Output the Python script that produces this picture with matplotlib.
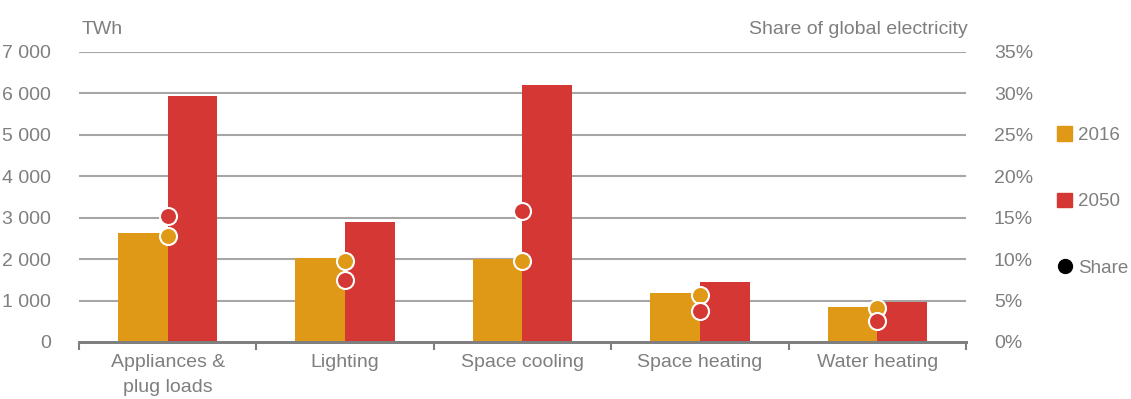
import numpy as np
import matplotlib.pyplot as plt
from matplotlib.lines import Line2D
from matplotlib.patches import Patch

plt.rcParams['font.family'] = ['Liberation Sans', 'DejaVu Sans']

categories = ['Appliances &\nplug loads', 'Lighting', 'Space cooling', 'Space heating', 'Water heating']
twh_2016 = [2630, 2030, 2000, 1180, 840]
twh_2050 = [5940, 2900, 6200, 1450, 965]
share_2016 = [12.8, 9.8, 9.8, 5.7, 4.1]
share_2050 = [15.2, 7.5, 15.8, 3.7, 2.5]

c16 = '#E09916'
c50 = '#D43734'
grey = '#7f7f7f'

fig = plt.figure(figsize=(11.31, 3.99), dpi=100)
ax = fig.add_axes([0.0698, 0.1429, 0.7843, 0.7268])
ax2 = ax.twinx()

x = np.arange(len(categories))
w = 0.28
ax.bar(x - w / 2, twh_2016, w, color=c16, zorder=2)
ax.bar(x + w / 2, twh_2050, w, color=c50, zorder=2)
ax.set_ylim(0, 7000)
ax.set_xlim(-0.5, len(categories) - 0.5)
ax.set_yticks(range(0, 7001, 1000))
ax.set_yticklabels([f'{v:,}'.replace(',', ' ') for v in range(0, 7001, 1000)])
for v in range(1000, 7001, 1000):
    ax.axhline(v, color='#a6a6a6', lw=1.5, zorder=1)

ax2.set_ylim(0, 35)
ax2.set_yticks(range(0, 36, 5))
ax2.set_yticklabels([f'{v}%' for v in range(0, 36, 5)])
ax2.scatter(x, share_2016, s=150, color=c16, edgecolors='white', linewidths=1.5, zorder=3)
ax2.scatter(x, share_2050, s=150, color=c50, edgecolors='white', linewidths=1.5, zorder=3)

for a in (ax, ax2):
    for s in ['top', 'left', 'right']:
        a.spines[s].set_visible(False)
    a.spines['bottom'].set_color(grey)
    a.spines['bottom'].set_linewidth(2)
    a.tick_params(axis='y', length=0, labelsize=14, labelcolor=grey)
ax.tick_params(axis='y', pad=20)
ax2.tick_params(axis='y', pad=20)

ax.set_xticks(x)
ax.set_xticklabels(categories, fontsize=14, color=grey, linespacing=1.55)
ax.tick_params(axis='x', length=0, pad=9)
ax.set_xticks(np.arange(-0.5, len(categories)), minor=True)
ax.tick_params(axis='x', which='minor', length=6, width=1.5, color=grey, direction='out')

fig.text(0.0725, 0.925, 'TWh', fontsize=14, color=grey, ha='left', va='center')
fig.text(0.856, 0.925, 'Share of global electricity', fontsize=14, color=grey, ha='right', va='center')

handles = [Patch(color=c16, label='2016'), Patch(color=c50, label='2050'),
           Line2D([], [], marker='o', ls='', color='black', markersize=10, label='Share')]
fig.legend(handles=handles, loc='center left', bbox_to_anchor=(0.923, 0.495), frameon=False,
           fontsize=13.5, labelcolor=grey, labelspacing=2.6, handlelength=0.8,
           handleheight=0.8, handletextpad=0.3, borderpad=0.2)

fig.savefig('out.png', dpi=100)
